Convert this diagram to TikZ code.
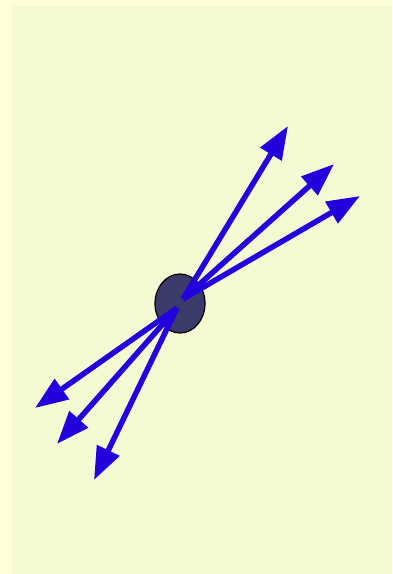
\documentclass[tikz,border=0pt]{standalone}
\usetikzlibrary{arrows.meta,shapes.geometric}
\definecolor{outerbg}{HTML}{FFFFDA}
\definecolor{innerbg}{HTML}{F6FAD3}
\definecolor{arrowblue}{HTML}{2200DD}
\definecolor{ballfill}{HTML}{3B3B6B}
\tikzset{
  vec/.style={draw=arrowblue, line width=5.5pt, -{Triangle[length=33pt,width=24pt]}},
  ball/.style={ellipse, draw=black, line width=1.2pt, fill=ballfill, minimum width=50pt, minimum height=59pt, inner sep=0pt}
}
\begin{document}
\begin{tikzpicture}[x=1pt,y=-1pt]
\fill[outerbg] (0,0) rectangle (392,574);
\fill[innerbg] (12,5) rectangle (392,574);
\useasboundingbox (0,0) rectangle (392,574);
\node[ball] (b) at (180,303.5) {};
\coordinate (s1) at (183,299);
\coordinate (s2) at (177,308);
\coordinate (t1) at (288,126);
\coordinate (t2) at (334,164);
\coordinate (t3) at (360,196);
\coordinate (t4) at (35,408);
\coordinate (t5) at (57,444);
\coordinate (t6) at (94,480);
\draw[vec] (s1) -- (t1);
\draw[vec] (s1) -- (t2);
\draw[vec] (s1) -- (t3);
\draw[vec] (s2) -- (t4);
\draw[vec] (s2) -- (t5);
\draw[vec] (s2) -- (t6);
\end{tikzpicture}
\end{document}
